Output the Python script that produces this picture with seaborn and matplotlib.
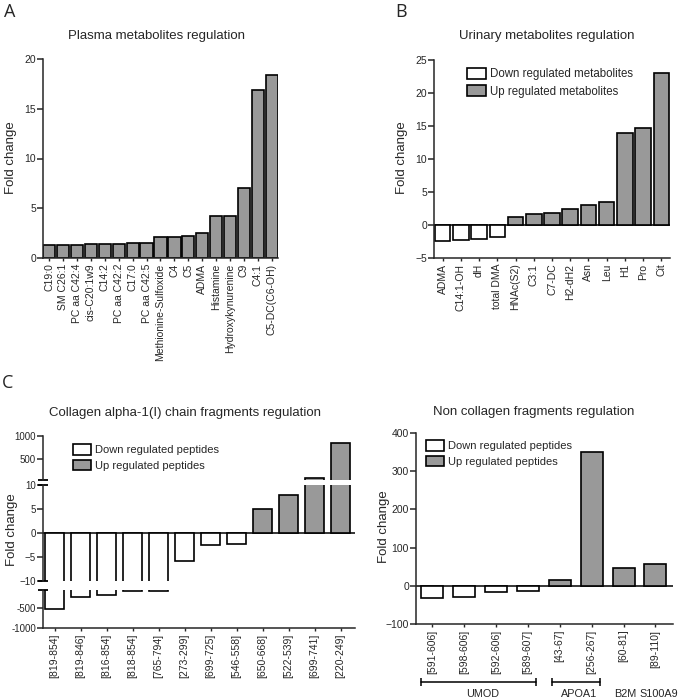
import numpy as np
import pandas as pd
import seaborn as sns
import matplotlib.pyplot as plt
import matplotlib.transforms as mtrans
from matplotlib.patches import Patch

sns.set_style('ticks')
plt.rcParams['font.family'] = ['Liberation Sans', 'DejaVu Sans']
plt.rcParams['axes.linewidth'] = 1.1

GREY = '#999999'
W, H = 683, 700

# --- data ---
plasma_names = ['C19:0', 'SM C26:1', 'PC aa C42:4', 'cis-C20:1w9', 'C14:2', 'PC aa C42:2',
                'C17:0', 'PC aa C42:5', 'Methionine-Sulfoxide', 'C4', 'C5', 'ADMA',
                'Histamine', 'Hydroxykynurenine', 'C9', 'C4:1', 'C5-DC(C6-OH)']
plasma_fc = [1.3, 1.3, 1.3, 1.4, 1.4, 1.45, 1.5, 1.55, 2.1, 2.15, 2.25, 2.5,
             4.2, 4.2, 7.0, 16.9, 18.4]

urine_names = ['ADMA', 'C14:1-OH', 'dH', 'total DMA', 'HNAc(S2)', 'C3:1', 'C7-DC',
               'H2-dH2', 'Asn', 'Leu', 'H1', 'Pro', 'Cit']
urine_fc = [-2.4, -2.3, -2.1, -1.8, 1.2, 1.6, 1.8, 2.4, 3.0, 3.5, 14.0, 14.7, 23.0]

coll_names = ['[819-854]', '[819-846]', '[816-854]', '[818-854]', '[765-794]', '[273-299]',
              '[699-725]', '[546-558]', '[650-668]', '[522-539]', '[699-741]', '[220-249]']
coll_fc = [-520, -205, -160, -55, -55, -5.8, -2.4, -2.2, 5.1, 8.0, 65, 840]

noncoll_names = ['[591-606]', '[598-606]', '[592-606]', '[589-607]', '[43-67]', '[256-267]',
                 '[60-81]', '[89-110]']
noncoll_fc = [-33, -30, -15, -13, 15, 350, 46, 58]
noncoll_groups = ['UMOD', 'APOA1', 'B2M', 'S100A9']


def box(l, t, r, b):
    return [l / W, 1 - b / H, (r - l) / W, (b - t) / H]


def bars(ax, names, vals, width):
    df = pd.DataFrame({'name': names, 'fc': vals})
    df['dir'] = np.where(df['fc'] < 0, 'down', 'up')
    sns.barplot(data=df, x='name', y='fc', hue='dir', order=names,
                palette={'down': 'white', 'up': GREY}, dodge=False, width=width,
                edgecolor='black', linewidth=1.2, legend=False, ax=ax)
    ax.set_xlabel('')
    ax.set_ylabel('')
    sns.despine(ax=ax)
    ax.tick_params(axis='y', length=4, width=1.1, labelsize=7.5, pad=1)
    ax.tick_params(axis='x', length=2, width=1.0, labelsize=7.5, labelrotation=90, pad=2)


def legend(ax, items, x, y, size=8.3):
    handles = [Patch(facecolor='white', edgecolor='black', lw=1.2, label=items[0]),
               Patch(facecolor=GREY, edgecolor='black', lw=1.2, label=items[1])]
    ax.legend(handles=handles, loc='upper left', bbox_to_anchor=(x / W, 1 - y / H),
              bbox_transform=fig.transFigure, frameon=False, fontsize=size,
              handlelength=1.65, handleheight=1.1, handletextpad=0.35,
              labelspacing=0.4, borderpad=0, borderaxespad=0)


def ftext(x, y, s, **kw):
    fig.text(x / W, 1 - y / H, s, ha='center', va='center', **kw)


fig = plt.figure(figsize=(6.83, 7.0), dpi=100)

# A: plasma
axA = fig.add_axes(box(43, 59, 278, 258))
bars(axA, plasma_names, plasma_fc, 0.88)
axA.set_xlim(-0.45, len(plasma_names) - 0.55)
axA.set_ylim(0, 20)
axA.set_yticks([0, 5, 10, 15, 20])

# B: urine
axB = fig.add_axes(box(434, 60, 670, 258))
bars(axB, urine_names, urine_fc, 0.85)
axB.set_xlim(-0.47, len(urine_names) - 0.53)
axB.set_ylim(-5, 25)
axB.set_yticks(range(-5, 26, 5))
axB.axhline(0, color='black', lw=1.1, zorder=0.5)
legend(axB, ['Down regulated metabolites', 'Up regulated metabolites'], 467, 68)

# C: collagen, broken y axis
axCt = fig.add_axes(box(43, 436, 355, 480))
axCm = fig.add_axes(box(43, 485, 355, 581))
axCb = fig.add_axes(box(43, 590, 355, 628))
for ax in (axCt, axCm, axCb):
    bars(ax, coll_names, coll_fc, 0.73)
    ax.set_xlim(-0.45, len(coll_names) - 0.45)
    ax.tick_params(axis='y', labelsize=7)
for ax in (axCt, axCm):
    ax.spines['bottom'].set_visible(False)
    ax.tick_params(axis='x', bottom=False, labelbottom=False)
axCt.set_ylim(30, 1000)
axCt.set_yticks([500, 1000])
axCm.set_ylim(-10, 10)
axCm.set_yticks([-10, -5, 0, 5, 10])
axCm.axhline(0, color='black', lw=1.1, zorder=0.5)
axCb.set_ylim(-1000, -30)
axCb.set_yticks([-1000, -500])
axCb.set_yticklabels(['-1000', '-500'])
# break caps on the left spine
for ax, ends in ((axCt, [0]), (axCm, [0, 1]), (axCb, [1])):
    for e in ends:
        ax.plot([0], [e], marker='_', ms=7, mew=1.3, color='black',
                transform=ax.transAxes, clip_on=False)
legend(axCt, ['Down regulated peptides', 'Up regulated peptides'], 73, 444, size=8.0)

# D: non collagen
axD = fig.add_axes(box(416, 433, 673, 624))
bars(axD, noncoll_names, noncoll_fc, 0.69)
axD.set_xlim(-0.5, len(noncoll_names) - 0.45)
axD.set_ylim(-100, 400)
axD.set_yticks(range(-100, 401, 100))
axD.axhline(0, color='black', lw=1.1, zorder=0.5)
legend(axD, ['Down regulated peptides', 'Up regulated peptides'], 426, 440, size=8.0)

tr = mtrans.blended_transform_factory(axD.transData, axD.transAxes)
for x0, x1 in ((-0.35, 3.25), (3.75, 5.25)):
    axD.plot([x0, x1], [-0.304, -0.304], color='black', lw=1.1, transform=tr, clip_on=False)
    axD.plot([x0, x1], [-0.304, -0.304], ls='none', marker='|', ms=6, mew=1.1,
             color='black', transform=tr, clip_on=False)
for gx, g in zip([1.6, 4.6, 6.05, 7.1], noncoll_groups):
    axD.text(gx, -0.365, g, transform=tr, ha='center', va='center', fontsize=7.8)

# titles, y labels, panel letters
ftext(156, 36, 'Plasma metabolites regulation', fontsize=9.5)
ftext(547, 36, 'Urinary metabolites regulation', fontsize=9.5)
ftext(185, 413, 'Collagen alpha-1(I) chain fragments regulation', fontsize=9.5)
ftext(534, 412, 'Non collagen fragments regulation', fontsize=9.5)
ftext(11, 158, 'Fold change', fontsize=9.5, rotation=90)
ftext(402, 158, 'Fold change', fontsize=9.5, rotation=90)
ftext(12, 530, 'Fold change', fontsize=9.5, rotation=90)
ftext(384, 527, 'Fold change', fontsize=9.5, rotation=90)
ftext(10, 12, 'A', fontsize=13, family=['Open Sans', 'DejaVu Sans'])
ftext(401, 12, 'B', fontsize=13, family=['Open Sans', 'DejaVu Sans'])
ftext(8, 383, 'C', fontsize=13, family=['Open Sans', 'DejaVu Sans'])

fig.savefig('out.png', dpi=100)
